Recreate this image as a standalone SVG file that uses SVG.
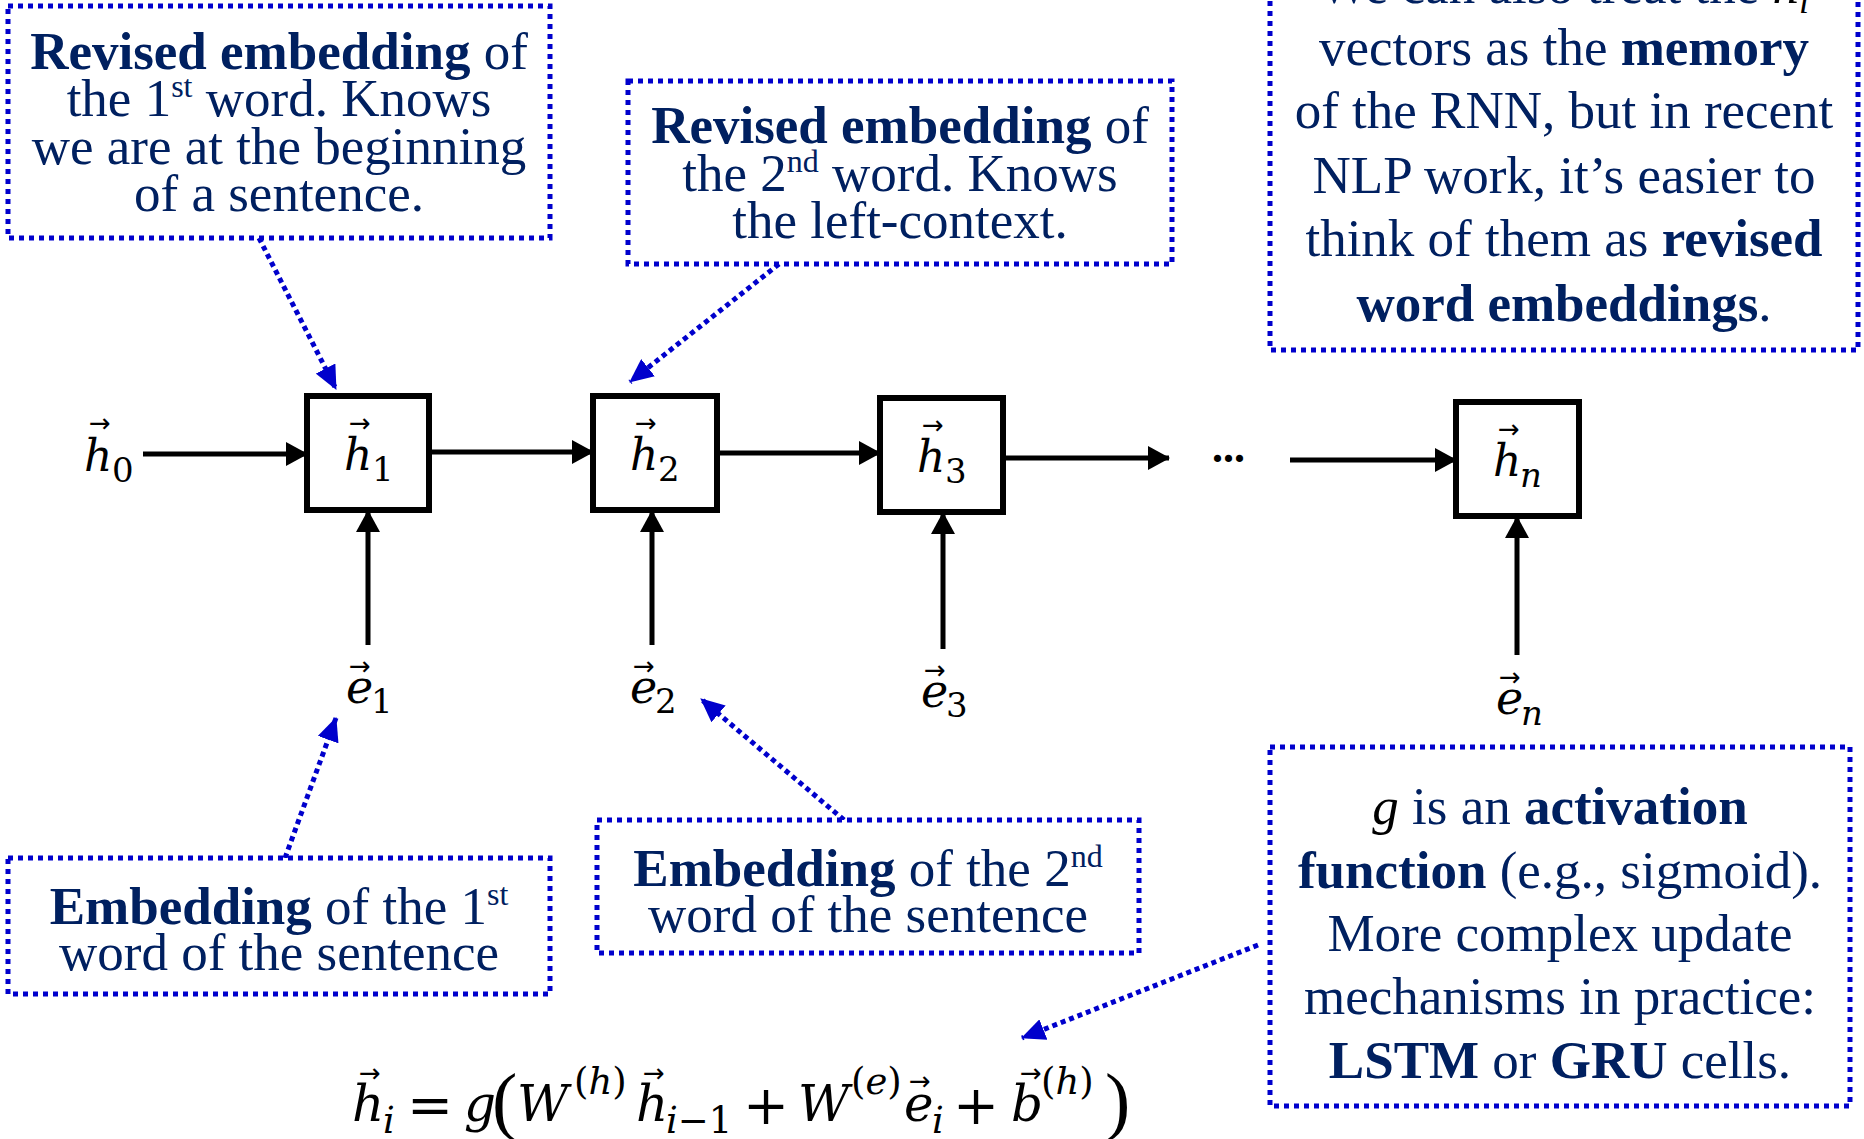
<svg xmlns="http://www.w3.org/2000/svg" width="1864" height="1139" viewBox="0 0 1864 1139">
<defs>
<style>
.t{font-family:"Liberation Serif","Times New Roman",serif;font-size:53px;fill:#002060;text-anchor:middle}
.b{font-weight:bold}
.sup{font-size:32px}
.box{fill:#fff;stroke:#0000CC;stroke-width:5;stroke-dasharray:5 5}
.node{fill:#fff;stroke:#000;stroke-width:6}
.m{font-family:"DejaVu Serif",serif;font-style:italic;font-size:44px;fill:#000}
.me{font-family:"DejaVu Serif",serif;font-style:italic;font-size:46px;fill:#000}
.s{font-family:"DejaVu Serif",serif;font-size:34px;fill:#000}
.si{font-style:italic}
.vec{font-family:"DejaVu Sans",sans-serif;font-size:26px;fill:#000;text-anchor:middle}
.arr{stroke:#000;stroke-width:5;fill:none;marker-end:url(#ah)}
.call{stroke:#0000CC;stroke-width:5;stroke-dasharray:5 4;fill:none;marker-end:url(#bh)}
.f{font-family:"DejaVu Serif",serif;font-size:50px;fill:#000}
.op{font-family:"DejaVu Serif",serif;font-size:55px;fill:#000}
.par{font-family:"Liberation Serif","Times New Roman",serif;font-size:76px;fill:#000}
.fs{font-family:"DejaVu Serif",serif;font-size:37px;fill:#000}
</style>
<marker id="ah" markerUnits="userSpaceOnUse" markerWidth="22" markerHeight="24" refX="21" refY="12" orient="auto">
<path d="M0,0 L22,12 L0,24 z" fill="#000"/>
</marker>
<marker id="bh" markerUnits="userSpaceOnUse" markerWidth="24" markerHeight="22" refX="23" refY="11" orient="auto">
<path d="M0,0 L24,11 L0,22 z" fill="#0000CC"/>
</marker>
</defs>
<rect width="1864" height="1139" fill="#fff"/>

<g id="connectors">
<line class="arr" x1="143" y1="454" x2="307" y2="454"/>
<line class="arr" x1="430" y1="452" x2="593" y2="452"/>
<line class="arr" x1="718" y1="453" x2="880" y2="453"/>
<line class="arr" x1="1004" y1="458" x2="1169" y2="458"/>
<line class="arr" x1="1290" y1="460" x2="1456" y2="460"/>
<line class="arr" x1="368" y1="645" x2="368" y2="511"/>
<line class="arr" x1="652" y1="645" x2="652" y2="511"/>
<line class="arr" x1="943" y1="649" x2="943" y2="513"/>
<line class="arr" x1="1517" y1="655" x2="1517" y2="517"/>
<line class="call" x1="259" y1="238" x2="336" y2="389"/>
<line class="call" x1="779" y1="264" x2="630" y2="382"/>
<line class="call" x1="285" y1="858" x2="336" y2="718"/>
<line class="call" x1="844" y1="820" x2="701" y2="699"/>
<line class="call" x1="1258" y1="945" x2="1022" y2="1038"/>
</g>

<g id="note-rev1">
<rect class="box" x="8" y="6" width="542" height="232"/>
<text class="t" x="279" y="69"><tspan class="b">Revised embedding</tspan> of</text>
<text class="t" x="279" y="116">the 1<tspan class="sup" dy="-19">st</tspan><tspan dy="19"> word. Knows</tspan></text>
<text class="t" x="279" y="164">we are at the beginning</text>
<text class="t" x="279" y="211">of a sentence.</text>
</g>

<g id="note-rev2">
<rect class="box" x="628" y="81" width="544" height="183"/>
<text class="t" x="900" y="143"><tspan class="b">Revised embedding</tspan> of</text>
<text class="t" x="900" y="191">the 2<tspan class="sup" dy="-19">nd</tspan><tspan dy="19"> word. Knows</tspan></text>
<text class="t" x="900" y="238">the left-context.</text>
</g>

<g id="note-memory">
<rect class="box" x="1270" y="-60" width="588" height="410"/>
<text class="t" x="1564" y="3">We can also treat the <tspan font-style="italic" fill="#000">h</tspan><tspan font-style="italic" fill="#000" font-size="36px" dy="10">i</tspan></text>
<text class="t" x="1564" y="65">vectors as the <tspan class="b">memory</tspan></text>
<text class="t" x="1564" y="128">of the RNN, but in recent</text>
<text class="t" x="1564" y="193">NLP work, it’s easier to</text>
<text class="t" x="1564" y="256">think of them as <tspan class="b">revised</tspan></text>
<text class="t" x="1564" y="321"><tspan class="b">word embeddings</tspan>.</text>
</g>

<g id="note-emb1">
<rect class="box" x="8" y="858" width="542" height="136"/>
<text class="t" x="279" y="924"><tspan class="b">Embedding</tspan> of the 1<tspan class="sup" dy="-19">st</tspan></text>
<text class="t" x="279" y="970">word of the sentence</text>
</g>

<g id="note-emb2">
<rect class="box" x="597" y="820" width="542" height="133"/>
<text class="t" x="868" y="886"><tspan class="b">Embedding</tspan> of the 2<tspan class="sup" dy="-19">nd</tspan></text>
<text class="t" x="868" y="932">word of the sentence</text>
</g>

<g id="note-activation">
<rect class="box" x="1270" y="747" width="580" height="359"/>
<text class="t" x="1560" y="824"><tspan font-style="italic" fill="#000">g</tspan> is an <tspan class="b">activation</tspan></text>
<text class="t" x="1560" y="888"><tspan class="b">function</tspan> (e.g., sigmoid).</text>
<text class="t" x="1560" y="951">More complex update</text>
<text class="t" x="1560" y="1014">mechanisms in practice:</text>
<text class="t" x="1560" y="1078"><tspan class="b">LSTM</tspan> or <tspan class="b">GRU</tspan> cells.</text>
</g>

<g id="h0">
<text class="vec" x="100" y="432">→</text>
<text class="m" x="84" y="471">h</text>
<text class="s" x="112" y="482">0</text>
</g>

<g id="h1">
<rect class="node" x="307" y="396" width="122" height="114"/>
<text class="vec" x="360" y="432">→</text>
<text class="m" x="344" y="470">h</text>
<text class="s" x="372" y="481">1</text>
</g>

<g id="h2">
<rect class="node" x="593" y="396" width="124" height="114"/>
<text class="vec" x="646" y="432">→</text>
<text class="m" x="630" y="470">h</text>
<text class="s" x="658" y="481">2</text>
</g>

<g id="h3">
<rect class="node" x="880" y="398" width="123" height="114"/>
<text class="vec" x="933" y="434">→</text>
<text class="m" x="917" y="472">h</text>
<text class="s" x="945" y="483">3</text>
</g>

<g id="dots">
<text x="1212" y="462" font-family="Liberation Serif, serif" font-weight="bold" font-size="44px" fill="#000">...</text>
</g>

<g id="hn">
<rect class="node" x="1456" y="402" width="123" height="114"/>
<text class="vec" x="1509" y="438">→</text>
<text class="m" x="1493" y="476">h</text>
<text class="s si" x="1520" y="487">n</text>
</g>

<g id="e1">
<text class="vec" x="360" y="675">→</text>
<text class="me" x="346" y="703">e</text>
<text class="s" x="371" y="713">1</text>
</g>
<g id="e2">
<text class="vec" x="644" y="675">→</text>
<text class="me" x="630" y="703">e</text>
<text class="s" x="655" y="713">2</text>
</g>
<g id="e3">
<text class="vec" x="935" y="679">→</text>
<text class="me" x="921" y="707">e</text>
<text class="s" x="946" y="717">3</text>
</g>
<g id="en">
<text class="vec" x="1510" y="686">→</text>
<text class="me" x="1496" y="714">e</text>
<text class="s si" x="1521" y="725">n</text>
</g>

<g id="formula">
<text class="vec" x="370" y="1082">→</text>
<text class="f" x="352" y="1121" font-style="italic">h</text>
<text class="fs" x="383" y="1133" font-style="italic">i</text>
<text class="op" x="407" y="1124">=</text>
<text class="f" x="464" y="1121" font-style="italic">g</text>
<text class="par" x="492" y="1126">(</text>
<text class="f" x="517" y="1121" font-style="italic">W</text>
<text class="fs" x="574" y="1094">(<tspan font-style="italic">h</tspan>)</text>
<text class="vec" x="654" y="1082">→</text>
<text class="f" x="636" y="1121" font-style="italic">h</text>
<text class="fs" x="666" y="1133"><tspan font-style="italic">i</tspan>−1</text>
<text class="op" x="743" y="1124">+</text>
<text class="f" x="798" y="1121" font-style="italic">W</text>
<text class="fs" x="851" y="1094">(<tspan font-style="italic">e</tspan>)</text>
<text class="vec" x="920" y="1090">→</text>
<text class="f" x="904" y="1121" font-style="italic">e</text>
<text class="fs" x="932" y="1133" font-style="italic">i</text>
<text class="op" x="953" y="1124">+</text>
<text class="vec" x="1031" y="1082">→</text>
<text class="f" x="1011" y="1121" font-style="italic">b</text>
<text class="fs" x="1041" y="1094">(<tspan font-style="italic">h</tspan>)</text>
<text class="par" x="1105" y="1126">)</text>
</g>
</svg>
